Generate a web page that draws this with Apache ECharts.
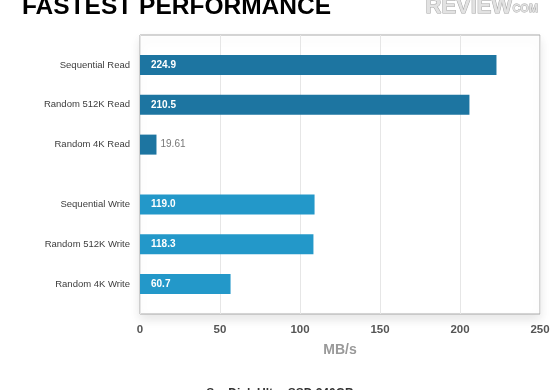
<!DOCTYPE html>
<html>
<head>
<meta charset="utf-8">
<script src="https://cdn.jsdelivr.net/npm/echarts@6/dist/echarts.min.js"></script>
<style>html,body{margin:0;padding:0;background:#fff}#c{width:560px;height:390px}</style>
</head>
<body>
<div id="c"></div>
<script>
// Data
const readCategories = ['Sequential Read', 'Random 512K Read', 'Random 4K Read'];
const writeCategories = ['Sequential Write', 'Random 512K Write', 'Random 4K Write'];
const readBarValues = [222.8, 205.9, 10.3];      // bar lengths as drawn
const writeBarValues = [109.1, 108.4, 56.6];
const readLabels = ['224.9', '210.5', '19.61'];  // printed value labels
const writeLabels = ['119.0', '118.3', '60.7'];
const xTicks = [0, 50, 100, 150, 200, 250];
const titleText = 'FASTEST PERFORMANCE';
const subtitleText = 'SanDisk Ultra SSD 240GB';
const axisName = 'MB/s';

const readColor = '#1d75a1';
const writeColor = '#2398c9';
const FONT = '"Liberation Sans", Arial, Helvetica, sans-serif';

// Build the slot layout: blank, item, blank, item, ... with an extra gap between groups
const cats = [];
const data = [];
function pushBlank() { cats.push(' '.repeat(cats.length + 1)); data.push('-'); }
function pushGroup(names, vals, labels, color) {
  names.forEach((n, i) => {
    pushBlank();
    cats.push(n);
    const small = vals[i] < 30;
    data.push({
      value: vals[i],
      itemStyle: { color: color },
      label: small ? {
        position: 'right', distance: 4, color: '#777', fontWeight: 'normal',
        formatter: labels[i]
      } : { formatter: labels[i] }
    });
  });
}
pushGroup(readCategories, readBarValues, readLabels, readColor);
pushBlank();
pushGroup(writeCategories, writeBarValues, writeLabels, writeColor);
pushBlank();

const chart = echarts.init(document.getElementById('c'), null, { renderer: 'canvas' });
chart.setOption({
  animation: false,
  backgroundColor: '#fff',
  grid: {
    left: 140, right: 20, top: 35, bottom: 76,
    show: true, borderColor: '#aaaaaa', borderWidth: 1,
    backgroundColor: '#fff',
    shadowColor: 'rgba(0,0,0,0.10)', shadowBlur: 10, shadowOffsetY: 5
  },
  xAxis: {
    type: 'value', min: xTicks[0], max: xTicks[xTicks.length - 1], interval: 50,
    axisLine: { show: false }, axisTick: { show: false },
    splitLine: { show: true, lineStyle: { color: '#e6e6e6', width: 1 } },
    axisLabel: { margin: 10, color: '#555', fontSize: 11.5, fontWeight: 'bold', fontFamily: FONT },
    name: axisName, nameLocation: 'middle', nameGap: 29,
    nameTextStyle: { color: '#999', fontSize: 14, fontWeight: 'bold', fontFamily: FONT }
  },
  yAxis: {
    type: 'category', data: cats, inverse: true,
    axisLine: { show: false }, axisTick: { show: false }, splitLine: { show: false },
    axisLabel: {
      interval: 0, margin: 10, color: '#3c3c3c', fontSize: 9.5, fontFamily: FONT,
      formatter: v => v.trim() === '' ? '' : v
    }
  },
  series: [{
    type: 'bar', data: data, barWidth: 20,
    label: {
      show: true, position: 'insideLeft', distance: 11,
      color: '#fff', fontSize: 10, fontWeight: 'bold', fontFamily: FONT
    }
  }],
  graphic: [
    { type: 'text', left: 22, top: -5, style: { text: titleText, fill: '#000', font: 'bold 24.5px ' + FONT } },
    { type: 'text', left: 425, top: -5, style: { text: 'REVIEW', fill: '#e2e2e2', stroke: '#a5a5a5', lineWidth: 1, font: 'bold 22px ' + FONT } },
    { type: 'text', left: 512, top: 3, style: { text: 'COM', fill: '#e2e2e2', stroke: '#a5a5a5', lineWidth: 0.8, font: 'bold 11px ' + FONT } },
    { type: 'text', left: 'center', top: 388, style: { text: subtitleText, fill: '#333', font: 'bold 12px ' + FONT }, x: 0 }
  ]
});
</script>
</body>
</html>
